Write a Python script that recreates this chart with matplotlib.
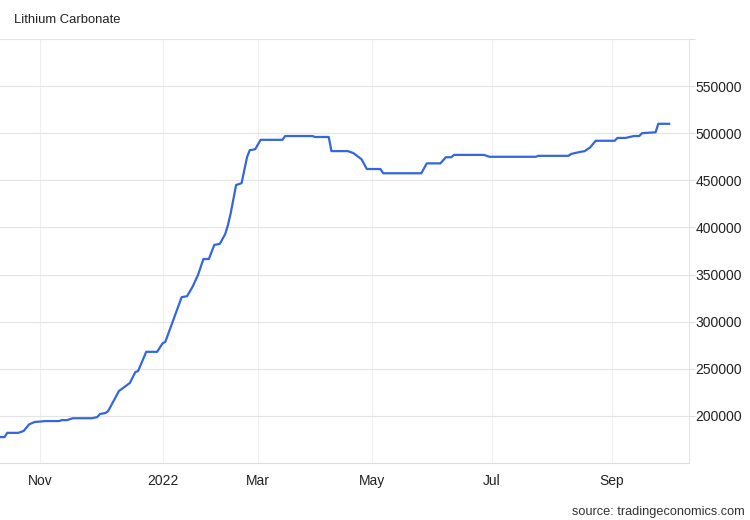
import pandas as pd
import numpy as np
from matplotlib import pyplot as plt

plt.rcParams['font.family'] = ['Liberation Sans', 'DejaVu Sans']

# price points (CNY/T), steps in between are flat
dates = ['2021-10-11', '2021-10-13', '2021-10-14', '2021-10-20', '2021-10-22', '2021-10-26',
         '2021-10-28', '2021-11-03', '2021-11-10', '2021-11-11', '2021-11-15', '2021-11-17',
         '2021-11-26', '2021-11-30', '2021-12-01', '2021-12-03', '2021-12-06', '2021-12-10',
         '2021-12-13', '2021-12-16', '2021-12-20', '2021-12-21', '2021-12-24', '2021-12-30',
         '2022-01-04', '2022-01-05', '2022-01-13', '2022-01-17', '2022-01-19', '2022-01-21',
         '2022-01-25', '2022-01-27', '2022-02-07', '2022-02-09', '2022-02-11', '2022-02-14',
         '2022-02-15', '2022-02-17', '2022-02-21', '2022-02-23', '2022-02-24', '2022-02-28',
         '2022-03-02', '2022-03-14', '2022-03-15', '2022-03-29', '2022-03-30', '2022-04-08',
         '2022-04-11', '2022-04-19', '2022-04-20', '2022-04-21', '2022-04-26', '2022-04-28',
         '2022-05-05', '2022-05-06', '2022-05-25', '2022-05-26', '2022-05-30', '2022-06-06',
         '2022-06-08', '2022-06-10', '2022-06-13', '2022-06-28', '2022-06-30', '2022-07-25',
         '2022-07-26', '2022-08-10', '2022-08-11', '2022-08-16', '2022-08-18', '2022-08-22',
         '2022-08-24', '2022-09-02', '2022-09-05', '2022-09-08', '2022-09-13', '2022-09-15',
         '2022-09-16', '2022-09-23', '2022-09-26', '2022-09-30']
prices = [177500, 177500, 182000, 182000, 184000, 191000,
          193500, 194500, 194500, 195500, 195500, 197500,
          197500, 198700, 202000, 203000, 205000, 226500,
          228500, 235000, 246500, 247500, 268000, 268000,
          277000, 278500, 326000, 327000, 337000, 349500,
          366500, 366500, 381500, 382500, 393000, 402500,
          415000, 445000, 447000, 474500, 482000, 483000,
          493000, 493000, 497000, 497000, 496000, 496000,
          481000, 481000, 480000, 479000, 472500, 462000,
          462000, 457500, 457500, 457500, 468000, 468000,
          474500, 474500, 477000, 477000, 475000, 475000,
          476000, 476000, 478000, 480000, 481000, 485000,
          492000, 492000, 495000, 495000, 497000, 497000,
          500000, 501000, 510000, 510000]

month_ticks = ['2021-11-01', '2022-01-01', '2022-03-01', '2022-05-01', '2022-07-01', '2022-09-01']
month_labels = ['Nov', '2022', 'Mar', 'May', 'Jul', 'Sep']
y_ticks = [200000, 250000, 300000, 350000, 400000, 450000, 500000, 550000, 600000]

# trading day axis: weekdays minus the days the series has no quotes
no_quote_days = ['2022-01-03', '2022-01-31', '2022-02-01', '2022-02-02', '2022-02-03', '2022-02-04',
                 '2022-04-04', '2022-04-05',
                 '2022-10-03', '2022-10-04', '2022-10-05', '2022-10-06', '2022-10-07']
days = pd.bdate_range('2021-10-08', '2022-11-30', freq='C', holidays=no_quote_days)

x = days.searchsorted(pd.to_datetime(dates))
xt = days.searchsorted(pd.to_datetime(month_ticks))

fig = plt.figure(figsize=(7.5, 5.2), dpi=100)
ax = fig.add_axes([0.0, 1 - 463 / 520, 689 / 750, (463 - 39) / 520])

ax.plot(x, prices, color='#3366e0', lw=1.6, solid_joinstyle='round')

# px per trading day from the month gridlines (Nov at 40px, Sep at 612px)
scale = (612 - 40) / (xt[-1] - xt[0])
ax.set_xlim(xt[0] - 40 / scale, xt[0] + (689 - 40) / scale)
ax.set_ylim(150000, 600000)

ax.set_xticks(xt)
ax.set_xticklabels(month_labels)
ax.set_yticks(y_ticks)
ax.set_yticklabels([str(v) if v < 600000 else '' for v in y_ticks])

ax.yaxis.tick_right()
ax.tick_params(axis='y', length=4, width=0.8, color='#e0e0e0', pad=0.5, labelsize=10, labelcolor='#222222')
ax.tick_params(axis='x', length=0, pad=8, labelsize=10, labelcolor='#222222')

ax.grid(True, axis='y', color='#e4e4e4', lw=0.8)
ax.grid(True, axis='x', color='#efefef', lw=0.8)
ax.set_axisbelow(True)

for s in ['top', 'left']:
    ax.spines[s].set_visible(False)
ax.spines['bottom'].set_color('#dddddd')
ax.spines['right'].set_color('#e4e4e4')
ax.spines['bottom'].set_linewidth(0.8)
ax.spines['right'].set_linewidth(0.8)

fig.text(14 / 750, 1 - 20 / 520, 'Lithium Carbonate', fontsize=9.4, color='#222222', va='center')
fig.text(745 / 750, 1 - 512 / 520, 'source: tradingeconomics.com', fontsize=9.2, color='#333333',
         ha='right', va='center')

fig.savefig('out.png', dpi=100)
